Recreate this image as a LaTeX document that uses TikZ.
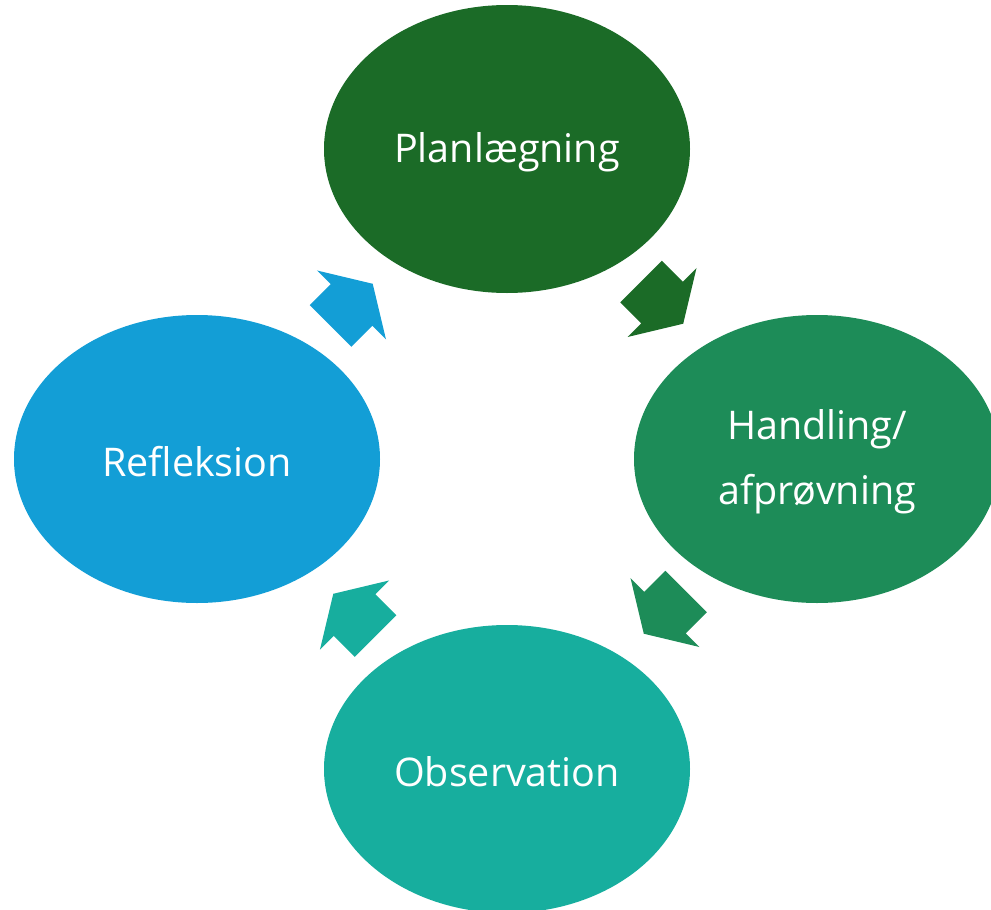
\documentclass[tikz,border=0pt]{standalone}
\usepackage{fontspec}
\setmainfont{Open Sans}
\usetikzlibrary{shapes.geometric}
\definecolor{cplan}{HTML}{1B6B27}
\definecolor{chand}{HTML}{1D8C58}
\definecolor{cobs}{HTML}{17AE9E}
\definecolor{crefl}{HTML}{139ED6}
\tikzset{
  phase/.style={ellipse, minimum width=366pt, minimum height=288pt, inner sep=0pt,
    fill=#1, text=white, font=\fontsize{39.5}{65}\selectfont, align=center},
  label text/.style={inner sep=0pt, text=white, font=\fontsize{39.5}{65}\selectfont, align=center},
}
\newcommand{\cyclearrow}[4]{%
  \fill[#4, shift={(#1,#2)}, rotate=#3]
    (0,-29.35) -- (29.7,-29.35) -- (29.7,-48.8) -- (59.7,0) -- (29.7,48.8) -- (29.7,29.35) -- (0,29.35) -- cycle;}
\begin{document}
\begin{tikzpicture}[x=1pt,y=-1pt]
\useasboundingbox (0,0) rectangle (991,910);
\begin{scope}
\clip (0,0) rectangle (991,910);
\node[phase=cplan] (plan) at (507,149) {};
\node[phase=chand] (hand) at (817,459) {};
\node[phase=cobs] (obs) at (507,769) {};
\node[phase=crefl] (refl) at (197,459) {};
\end{scope}
\node[label text] (plant) at ([yshift=-3pt]plan.center) {Planlægning};
\node[label text] (handt) at ([yshift=-3pt]hand.center) {Handling/\\afprøvning};
\node[label text] (obst) at ([yshift=-3pt]obs.center) {Observation};
\node[label text] (reflt) at ([yshift=-3pt]refl.center) {Refleksion};
\cyclearrow{641}{281.5}{-45}{cplan}
\cyclearrow{686}{591.5}{-135}{chand}
\cyclearrow{375.5}{636}{135}{cobs}
\cyclearrow{330.5}{326}{45}{crefl}
\end{tikzpicture}
\end{document}
